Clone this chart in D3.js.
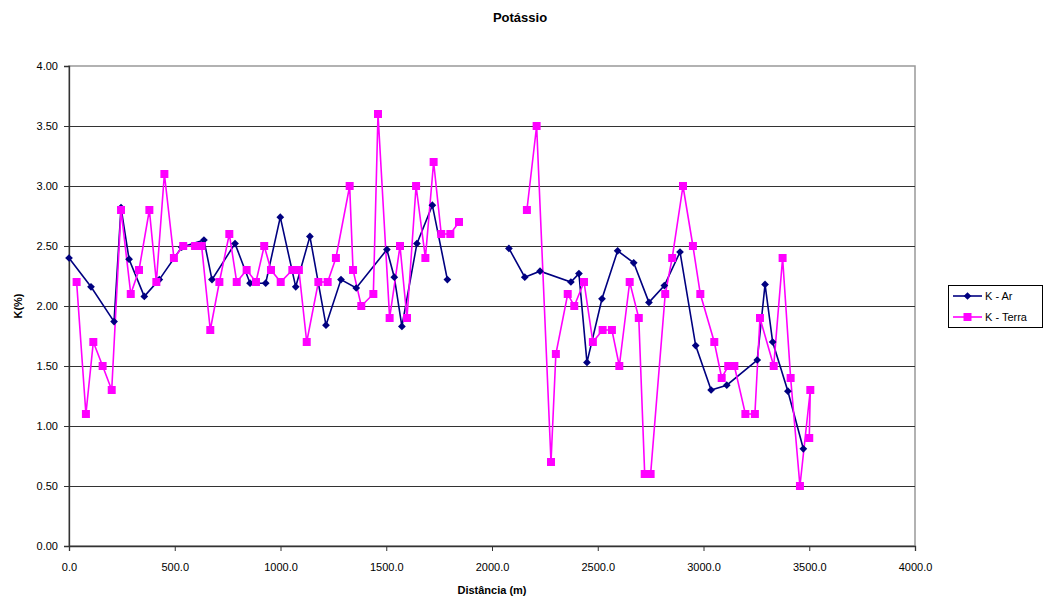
<!DOCTYPE html>
<html>
<head>
<meta charset="utf-8">
<script src="https://cdn.jsdelivr.net/npm/d3@7"></script>
<style>
  body { margin: 0; background: #fff; }
  svg { font-family: "Liberation Sans", Arial, sans-serif; }
</style>
</head>
<body>
<div id="chart"></div>
<script>
// K - Ar (null marks the gap in the line)
var arDist = [0, 104, 213, 246, 284, 356, 427, 533, 638, 676, 785, 856, 930, 999, 1072, 1139, 1215, 1286, 1358, 1503, 1538, 1574, 1645, 1718, 1789,
    1900,
    2080, 2155, 2227, 2373, 2411, 2449, 2520, 2594, 2670, 2742, 2815, 2889, 2963, 3036, 3110, 3254, 3291, 3327, 3399, 3472];
var arK = [2.40, 2.16, 1.87, 2.82, 2.39, 2.08, 2.22, 2.49, 2.55, 2.22, 2.52, 2.19, 2.19, 2.74, 2.16, 2.58, 1.84, 2.22, 2.15, 2.47, 2.24, 1.83, 2.52, 2.84, 2.22,
    null,
    2.48, 2.24, 2.29, 2.20, 2.27, 1.53, 2.06, 2.46, 2.36, 2.03, 2.17, 2.45, 1.67, 1.30, 1.34, 1.55, 2.18, 1.70, 1.29, 0.81];

// K - Terra
var terraDist = [36, 80, 115, 159, 202, 246, 292, 331, 380, 413, 451, 496, 540, 596, 627, 668, 711, 758, 793, 840, 884, 923, 955, 1001, 1056, 1087, 1124,
    1179, 1223, 1262, 1327, 1343, 1382, 1439, 1461, 1516, 1565, 1598, 1641, 1685, 1724, 1760, 1803, 1844,
    2000,
    2165, 2211, 2279, 2302, 2358, 2389, 2435, 2477, 2523, 2567, 2602, 2651, 2694, 2722, 2750, 2819, 2852, 2903, 2950, 2985,
    3051, 3086, 3117, 3146, 3198, 3243, 3267, 3332, 3374, 3412, 3456, 3505, 3500];
var terraK = [2.2, 1.1, 1.7, 1.5, 1.3, 2.8, 2.1, 2.3, 2.8, 2.2, 3.1, 2.4, 2.5, 2.5, 2.5, 1.8, 2.2, 2.6, 2.2, 2.3, 2.2, 2.5, 2.3, 2.2, 2.3, 2.3, 1.7,
    2.2, 2.2, 2.4, 3.0, 2.3, 2.0, 2.1, 3.6, 1.9, 2.5, 1.9, 3.0, 2.4, 3.2, 2.6, 2.6, 2.7,
    null,
    2.8, 3.5, 0.7, 1.6, 2.1, 2.0, 2.2, 1.7, 1.8, 1.8, 1.5, 2.2, 1.9, 0.6, 0.6, 2.1, 2.4, 3.0, 2.5, 2.1,
    1.7, 1.4, 1.5, 1.5, 1.1, 1.1, 1.9, 1.5, 2.4, 1.4, 0.5, 1.3, 0.9];

var xTicks = [0, 500, 1000, 1500, 2000, 2500, 3000, 3500, 4000];
var yTicks = [0, 0.5, 1, 1.5, 2, 2.5, 3, 3.5, 4];

var seriesNames = ["K - Ar", "K - Terra"];
var seriesColors = ["#000080", "#FF00FF"];

var width = 1044, height = 600;
var plotLeft = 69, plotRight = 915, plotTop = 66, plotBottom = 546;

var svg = d3.select("#chart").append("svg")
    .attr("width", width)
    .attr("height", height);

var x = d3.scaleLinear().domain([0, 4000]).range([plotLeft, plotRight]);
var y = d3.scaleLinear().domain([0, 4]).range([plotBottom, plotTop]);

// plot area border
svg.append("rect")
    .attr("x", plotLeft).attr("y", plotTop)
    .attr("width", plotRight - plotLeft).attr("height", plotBottom - plotTop)
    .attr("fill", "none")
    .attr("stroke", "#999")
    .attr("stroke-width", 1.5);

// gridlines
svg.append("g")
    .selectAll("line")
    .data(yTicks.slice(1, -1))
    .enter().append("line")
    .attr("x1", plotLeft).attr("x2", plotRight)
    .attr("y1", function(d) { return Math.round(y(d)) + 0.5; })
    .attr("y2", function(d) { return Math.round(y(d)) + 0.5; })
    .attr("stroke", "#333")
    .attr("stroke-width", 1);

// axes
var xAxis = svg.append("g")
    .attr("transform", "translate(0," + plotBottom + ")")
    .call(d3.axisBottom(x).tickValues(xTicks).tickSize(5).tickPadding(12)
        .tickFormat(function(d) { return d3.format(".1f")(d); }));
var yAxis = svg.append("g")
    .attr("transform", "translate(" + plotLeft + ",0)")
    .call(d3.axisLeft(y).tickValues(yTicks).tickSize(5).tickPadding(6)
        .tickFormat(d3.format(".2f")));

[xAxis, yAxis].forEach(function(a) {
    a.select(".domain").attr("stroke", "#333").attr("stroke-width", 1.3);
    a.selectAll(".tick line").attr("stroke", "#333");
    a.selectAll("text").attr("font-size", 11).attr("fill", "#000")
        .attr("font-family", "Liberation Sans, Arial, sans-serif");
});

// series: diamond = square turned 45 degrees
var series = [
    { name: seriesNames[0], color: seriesColors[0], shape: d3.symbolSquare, size: 30, rot: 45,
      data: arDist.map(function(d, i) { return { d: d, k: arK[i] }; }) },
    { name: seriesNames[1], color: seriesColors[1], shape: d3.symbolSquare, size: 64, rot: 0,
      data: terraDist.map(function(d, i) { return { d: d, k: terraK[i] }; }) }
];

var line = d3.line()
    .defined(function(p) { return p.k != null; })
    .x(function(p) { return x(p.d); })
    .y(function(p) { return y(p.k); });

series.forEach(function(s) {
    svg.append("path")
        .datum(s.data)
        .attr("d", line)
        .attr("fill", "none")
        .attr("stroke", s.color)
        .attr("stroke-width", 1.6);
});

series.forEach(function(s) {
    svg.append("g")
        .selectAll("path")
        .data(s.data.filter(function(p) { return p.k != null; }))
        .enter().append("path")
        .attr("transform", function(p) {
            return "translate(" + x(p.d) + "," + y(p.k) + ") rotate(" + s.rot + ")";
        })
        .attr("d", d3.symbol().type(s.shape).size(s.size))
        .attr("fill", s.color);
});

// title and axis labels
svg.append("text")
    .attr("x", 520).attr("y", 22)
    .attr("text-anchor", "middle")
    .attr("font-size", 13).attr("font-weight", "bold")
    .text("Potássio");

svg.append("text")
    .attr("x", 492).attr("y", 594)
    .attr("text-anchor", "middle")
    .attr("font-size", 11).attr("font-weight", "bold")
    .text("Distância (m)");

svg.append("text")
    .attr("transform", "translate(22,306) rotate(-90)")
    .attr("text-anchor", "middle")
    .attr("font-size", 11).attr("font-weight", "bold")
    .text("K(%)");

// legend
var legend = svg.append("g").attr("transform", "translate(948,285)");
legend.append("rect")
    .attr("x", 0.5).attr("y", 0.5)
    .attr("width", 94).attr("height", 42)
    .attr("fill", "#fff")
    .attr("stroke", "#000")
    .attr("stroke-width", 1);

series.forEach(function(s, i) {
    var ly = 11 + i * 21;
    legend.append("line")
        .attr("x1", 5).attr("x2", 34)
        .attr("y1", ly).attr("y2", ly)
        .attr("stroke", s.color).attr("stroke-width", 1.6);
    legend.append("path")
        .attr("transform", "translate(19.5," + ly + ") rotate(" + s.rot + ")")
        .attr("d", d3.symbol().type(s.shape).size(s.size))
        .attr("fill", s.color);
    legend.append("text")
        .attr("x", 37).attr("y", ly + 4)
        .attr("font-size", 11)
        .text(s.name);
});
</script>
</body>
</html>
